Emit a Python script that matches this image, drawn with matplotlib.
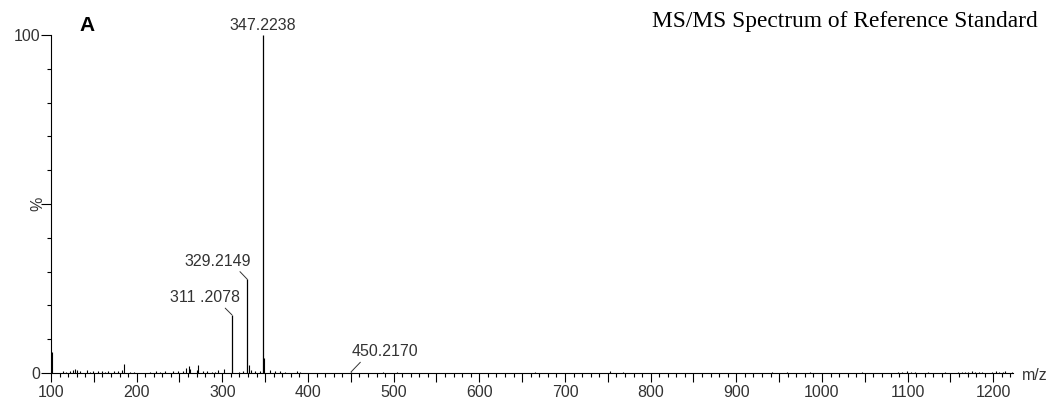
import matplotlib
matplotlib.use("Agg")
import matplotlib.pyplot as plt
from matplotlib.ticker import MultipleLocator, FuncFormatter

# labelled peaks
peak_mz = [311.2078, 329.2149, 347.2238, 450.2170]
peak_int = [17.2, 27.7, 100.0, 0.3]
peak_labels = ["311 .2078", "329.2149", "347.2238", "450.2170"]

# small unlabelled peaks (m/z, % intensity)
noise_mz = [100.8, 113.6, 118, 122, 126, 128, 130, 134, 141.7, 145, 149, 155, 159,
            163, 167, 173, 178, 182.5, 185, 192, 197, 215.6, 223, 227, 233, 242.7,
            248, 254, 258, 261, 262, 270, 271.6, 277.5, 282, 287.6, 291.5, 295, 302,
            320, 324.5, 331, 334, 338, 344, 349.2, 355.7, 361.6, 367, 373, 387,
            390.7, 488, 503.6, 665, 753, 768, 941.5, 959, 986, 1046.6, 1089, 1094,
            1099, 1104, 1109, 1124, 1144, 1159, 1163, 1167, 1171, 1175, 1179, 1183,
            1187, 1199, 1203, 1207, 1211, 1214, 1222]
noise_int = [6.1, 0.7, 0.4, 0.5, 1.0, 1.3, 0.8, 0.5, 1.0, 0.4, 0.5, 0.7, 0.5,
             0.4, 0.6, 0.6, 0.7, 0.8, 2.8, 0.3, 0.3, 0.3, 0.5, 0.4, 0.5, 0.5,
             0.6, 0.7, 1.5, 2.0, 1.2, 1.0, 2.4, 0.5, 0.5, 0.4, 0.4, 0.8, 1.2,
             0.4, 0.6, 2.3, 0.8, 0.5, 0.6, 4.4, 0.8, 0.6, 0.5, 0.3, 0.7,
             0.4, 0.3, 0.4, 0.4, 0.5, 0.4, 0.4, 0.4, 0.4, 0.4, 0.4, 0.3,
             0.5, 0.3, 0.4, 0.4, 0.4, 0.3, 0.4, 0.3, 0.4, 0.5, 0.3, 0.4,
             0.3, 0.4, 0.5, 0.3, 0.4, 0.5, 0.4]

# label offsets in pixels (text centre relative to peak top) and leader start on text box
label_off = [(-27, 17), (-30, 18), (0, 9.5), (34, 20)]
leader_rel = [(0.75, 0.0), (0.8, 0.0), None, (0.17, 0.0)]

plt.rcParams['font.family'] = ['Liberation Sans', 'DejaVu Sans']
fig = plt.figure(figsize=(10.56, 4.03), dpi=100)
ax = fig.add_axes([51 / 1056, 30 / 403, 962 / 1056, 338 / 403])

ax.vlines(noise_mz, 0, noise_int, color='black', lw=0.8)
ax.vlines(peak_mz, 0, peak_int, color='black', lw=0.9)

txt_col = '#333333'
for mz, h, lab, off, rel in zip(peak_mz, peak_int, peak_labels, label_off, leader_rel):
    kw = dict(xy=(mz, h), xytext=off, textcoords='offset pixels', ha='center',
              va='center', fontsize=11.5, color=txt_col, annotation_clip=False)
    if rel is not None:
        kw['arrowprops'] = dict(arrowstyle='-', color='#333333', lw=0.7,
                                shrinkA=0, shrinkB=0, relpos=rel)
    ax.annotate(lab, **kw)

ax.set_xlim(100, 1223)
ax.set_ylim(0, 100)

for s in ['top', 'right']:
    ax.spines[s].set_visible(False)
for s in ['left', 'bottom']:
    ax.spines[s].set_linewidth(0.8)

ax.xaxis.set_major_locator(MultipleLocator(50))
ax.xaxis.set_minor_locator(MultipleLocator(10))
ax.xaxis.set_major_formatter(FuncFormatter(lambda v, p: '%d' % v if v % 100 == 0 else ''))
ax.yaxis.set_major_locator(MultipleLocator(50))
ax.yaxis.set_minor_locator(MultipleLocator(10))
ax.yaxis.set_major_formatter(FuncFormatter(lambda v, p: {0: '0', 100: '100'}.get(int(v), '')))

ax.tick_params(axis='x', which='major', length=6.5, width=0.8, pad=2,
               labelsize=11.5, labelcolor=txt_col)
ax.tick_params(axis='x', which='minor', length=3, width=0.8)
ax.tick_params(axis='y', which='major', length=7, width=0.8, pad=0.5,
               labelsize=11.5, labelcolor=txt_col)
ax.tick_params(axis='y', which='minor', length=3, width=0.8)

# the "%" sits on the 50 tick
ax.annotate('%', xy=(0, 50), xycoords=('axes fraction', 'data'), xytext=(-13, 0),
            textcoords='offset pixels', rotation=90, ha='center', va='center',
            fontsize=11.5, color=txt_col, annotation_clip=False)

fig.text(1022 / 1056, 1 - 376 / 403, 'm/z', ha='left', va='center',
         fontsize=11.5, color=txt_col)
fig.text(87 / 1056, 1 - 25.5 / 403, 'A', ha='center', va='center',
         fontsize=15, fontweight='bold')
fig.text(1038 / 1056, 1 - 21 / 403, 'MS/MS Spectrum of Reference Standard',
         ha='right', va='center', fontsize=16.8, family='Liberation Serif')

fig.savefig('out.png', dpi=100)
